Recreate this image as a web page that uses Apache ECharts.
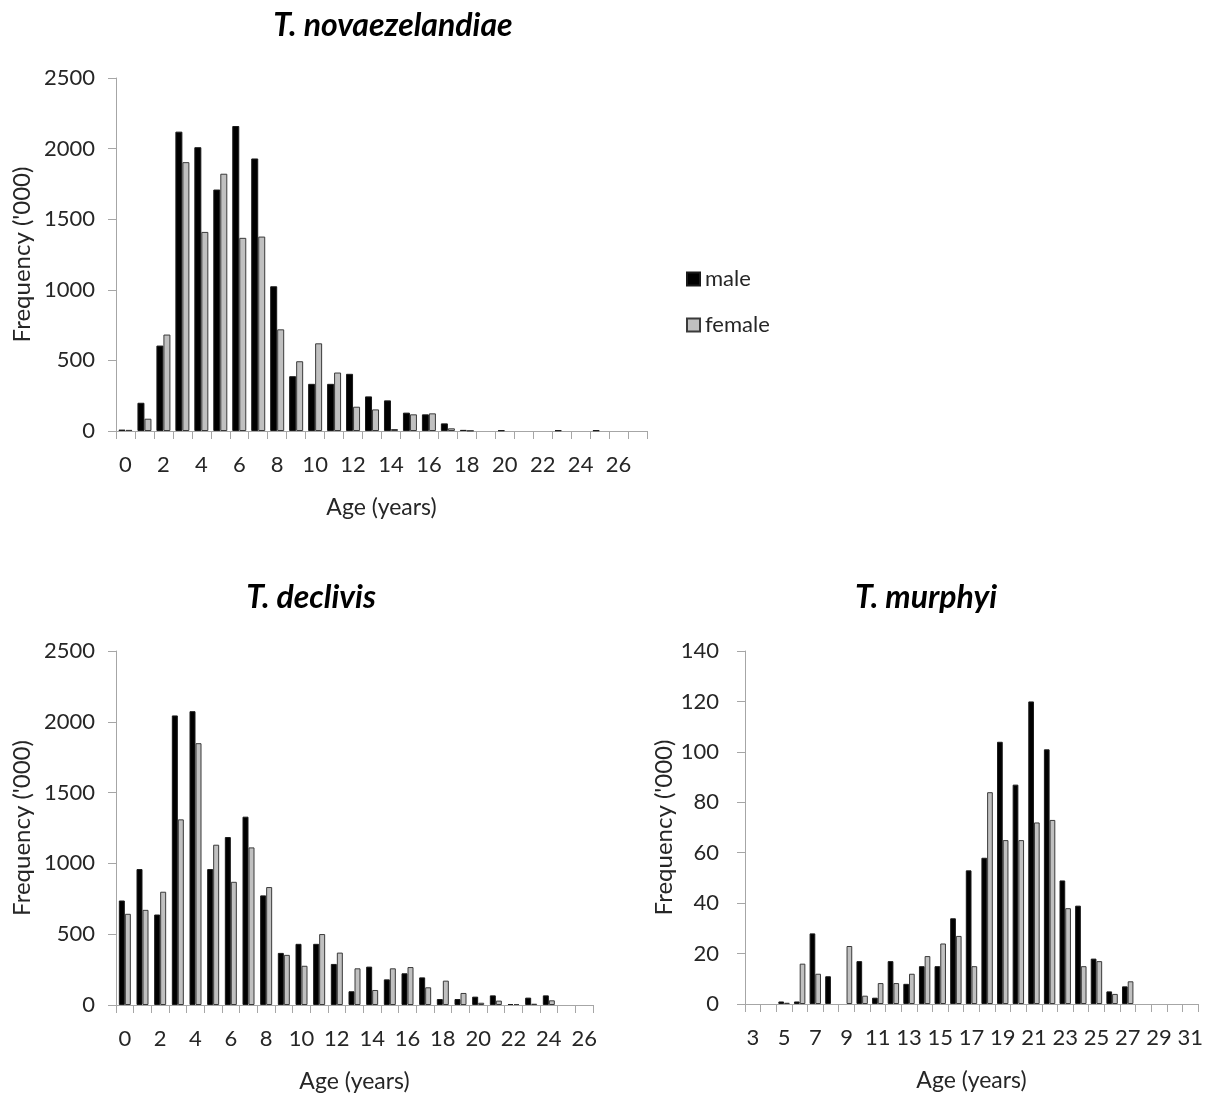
<!DOCTYPE html>
<html>
<head>
<meta charset="utf-8">
<script src="https://cdn.jsdelivr.net/npm/echarts@6/dist/echarts.min.js"></script>
<style>
html,body{margin:0;padding:0;background:#fff;}
#chart{width:1213px;height:1095px;}
</style>
</head>
<body>
<div id="chart"></div>
<script>
// ---- data ----
var novAges = ['0','1','2','3','4','5','6','7','8','9','10','11','12','13','14','15','16','17','18','19','20','21','22','23','24','25','26','27'];
var novMale = [10,200,605,2120,2010,1710,2160,1930,1025,388,334,334,405,245,217,130,118,54,8,0,5,0,0,5,0,5,0,0];
var novFemale = [8,87,683,1904,1410,1822,1368,1377,720,494,621,414,172,153,14,118,125,19,3,0,0,0,0,0,0,0,0,0];

var decAges = ['0','1','2','3','4','5','6','7','8','9','10','11','12','13','14','15','16','17','18','19','20','21','22','23','24','25','26'];
var decMale = [738,960,639,2045,2075,960,1186,1330,774,368,432,432,290,97,271,181,224,195,42,42,59,68,7,52,68,0,0];
var decFemale = [644,672,800,1311,1849,1132,870,1113,833,354,277,501,370,259,106,259,268,125,172,85,16,31,7,9,33,0,0];

var murAges = ['3','4','5','6','7','8','9','10','11','12','13','14','15','16','17','18','19','20','21','22','23','24','25','26','27','28','29','30','31'];
var murMale = [0,0,1,1,28,11,0,17,2.5,17,8,15,15,34,53,58,104,87,120,101,49,39,18,5,7,0,0,0,0];
var murFemale = [0,0,0.5,16,12,0,23,3.3,8.3,8.3,12,19,24,27,15,84,65,65,72,73,38,15,17,4,9,0,0,0,0];

var titles = ['T. novaezelandiae','T. declivis','T. murphyi'];
var seriesNames = ['male','female'];

// ---- styles ----
var FONT = 'Lato, "Open Sans", sans-serif';
var TXT = '#262626';
var AX = '#a6a6a6';
var maleStyle = {color:'#000000', borderColor:'#1a1a1a', borderWidth:1};
var femaleStyle = {color:'#c0c0c0', borderColor:'#3a3a3a', borderWidth:1};

function xAxis(gi, data){
  return {
    type:'category', gridIndex:gi, data:data, boundaryGap:true,
    axisLine:{show:true, lineStyle:{color:AX, width:1}},
    axisTick:{show:true, length:8, lineStyle:{color:AX}, alignWithLabel:false, interval:0},
    axisLabel:{interval:1, color:TXT, fontFamily:FONT, fontSize:22, margin:23},
    name:'Age (years)', nameLocation:'middle', nameGap:65,
    nameTextStyle:{color:TXT, fontFamily:FONT, fontSize:23}
  };
}
function yAxis(gi, max, interval, gap, margin){
  return {
    type:'value', gridIndex:gi, min:0, max:max, interval:interval,
    axisLine:{show:true, lineStyle:{color:AX, width:1}},
    axisTick:{show:true, length:8, lineStyle:{color:AX}},
    splitLine:{show:false},
    axisLabel:{color:TXT, fontFamily:FONT, fontSize:22, margin:margin, formatter:function(v){return String(v);}},
    name:"Frequency ('000)", nameLocation:'middle', nameGap:gap,
    nameTextStyle:{color:TXT, fontFamily:FONT, fontSize:24}
  };
}
function bars(gi, name, data, style, w){
  return {
    type:'bar', name:name, xAxisIndex:gi, yAxisIndex:gi,
    data:data.map(function(v){return v === 0 ? '-' : v;}),
    itemStyle:style, barWidth:w, barGap:'0%', silent:true, animation:false
  };
}
var titleStyle = {fontFamily:FONT, fontSize:32, fontWeight:'bold', fontStyle:'italic', color:'#000'};

var chart = echarts.init(document.getElementById('chart'), null, {renderer:'canvas'});
chart.setOption({
  backgroundColor:'#ffffff',
  animation:false,
  title:[
    {text:titles[0], left:388, top:5, textAlign:'center', textStyle:titleStyle},
    {text:titles[1], left:306, top:577, textAlign:'center', textStyle:titleStyle},
    {text:titles[2], left:921, top:577, textAlign:'center', textStyle:titleStyle}
  ],
  legend:{
    data:seriesNames, orient:'vertical', left:681, top:263, itemGap:24,
    itemWidth:13, itemHeight:13, icon:'rect',
    textStyle:{color:TXT, fontFamily:FONT, fontSize:22}
  },
  grid:[
    {left:116, top:78, width:531, height:353},
    {left:116, top:651, width:477, height:354},
    {left:745, top:651, width:453, height:353}
  ],
  xAxis:[xAxis(0, novAges), xAxis(1, decAges), xAxis(2, murAges)],
  yAxis:[yAxis(0, 2500, 500, 82, 21), yAxis(1, 2500, 500, 82, 21), yAxis(2, 140, 20, 69, 26)],
  series:[
    bars(0, seriesNames[0], novMale, maleStyle, 7),
    bars(0, seriesNames[1], novFemale, femaleStyle, 7),
    bars(1, seriesNames[0], decMale, maleStyle, 6),
    bars(1, seriesNames[1], decFemale, femaleStyle, 6),
    bars(2, seriesNames[0], murMale, maleStyle, 5.7),
    bars(2, seriesNames[1], murFemale, femaleStyle, 5.7)
  ]
});
</script>
</body>
</html>
